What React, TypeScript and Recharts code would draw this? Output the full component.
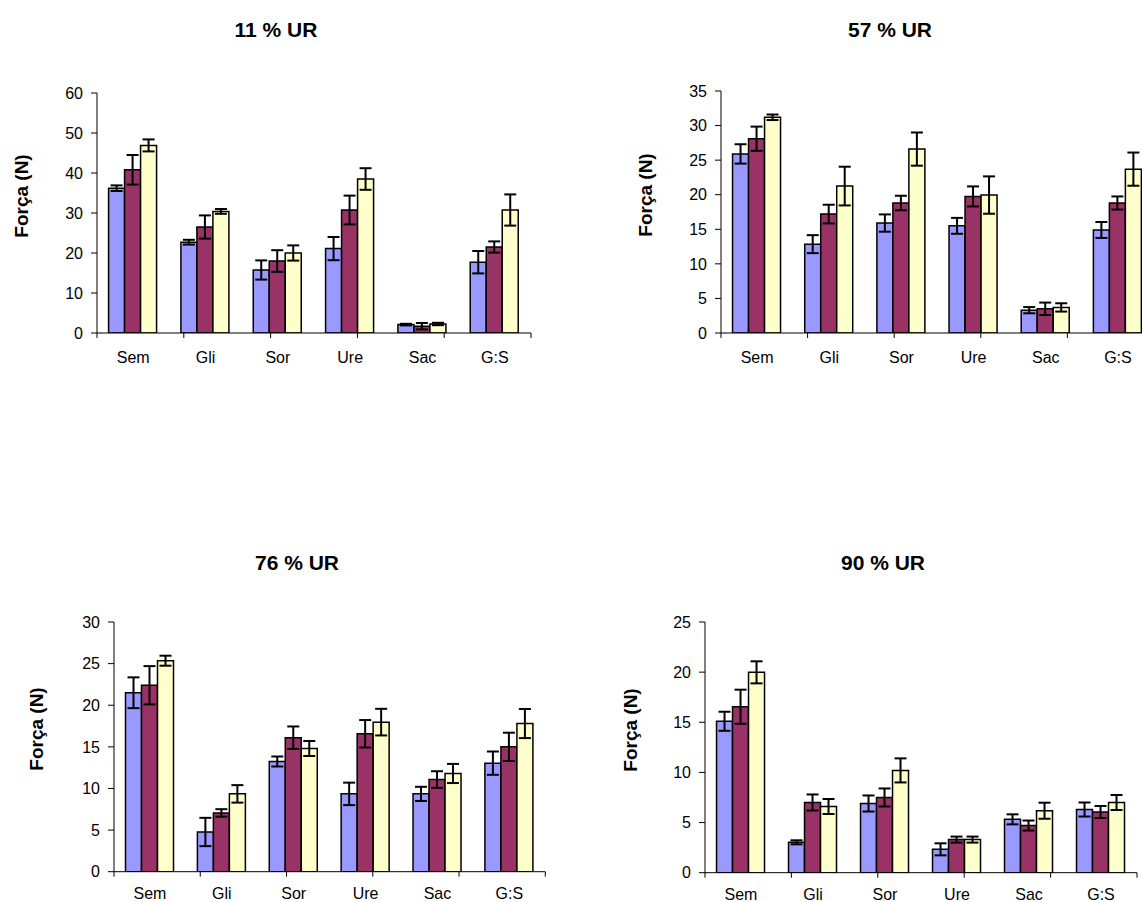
import React from 'react';
import { BarChart, Bar, XAxis, YAxis, ErrorBar } from 'recharts';

const categories = ['Sem', 'Gli', 'Sor', 'Ure', 'Sac', 'G:S'];

// 11 % UR
const ur11A = [36.2, 22.7, 15.75, 21.1, 2.1, 17.7];
const ur11AErr = [0.7, 0.6, 2.4, 2.9, 0.2, 2.8];
const ur11B = [40.8, 26.5, 18.0, 30.75, 1.7, 21.5];
const ur11BErr = [3.7, 2.9, 2.7, 3.6, 0.8, 1.4];
const ur11C = [46.9, 30.4, 20.0, 38.5, 2.25, 30.75];
const ur11CErr = [1.5, 0.6, 1.9, 2.7, 0.3, 3.9];
const ur11Ticks = [0, 10, 20, 30, 40, 50, 60];

// 57 % UR
const ur57A = [25.9, 12.85, 15.9, 15.5, 3.3, 14.9];
const ur57AErr = [1.4, 1.3, 1.25, 1.15, 0.45, 1.15];
const ur57B = [28.1, 17.2, 18.8, 19.75, 3.5, 18.8];
const ur57BErr = [1.75, 1.35, 1.05, 1.45, 0.9, 0.95];
const ur57C = [31.2, 21.25, 26.6, 19.95, 3.7, 23.7];
const ur57CErr = [0.4, 2.8, 2.4, 2.7, 0.6, 2.4];
const ur57Ticks = [0, 5, 10, 15, 20, 25, 30, 35];

// 76 % UR
const ur76A = [21.5, 4.77, 13.24, 9.35, 9.35, 13.04];
const ur76AErr = [1.85, 1.7, 0.6, 1.35, 0.85, 1.4];
const ur76B = [22.4, 7.06, 16.1, 16.57, 11.07, 15.0];
const ur76BErr = [2.3, 0.45, 1.35, 1.65, 1.0, 1.7];
const ur76C = [25.35, 9.35, 14.8, 17.97, 11.8, 17.8];
const ur76CErr = [0.6, 1.05, 0.9, 1.6, 1.15, 1.75];
const ur76Ticks = [0, 5, 10, 15, 20, 25, 30];

// 90 % UR
const ur90A = [15.1, 3.03, 6.9, 2.33, 5.32, 6.3];
const ur90AErr = [0.95, 0.2, 0.8, 0.6, 0.5, 0.7];
const ur90B = [16.55, 7.0, 7.5, 3.3, 4.7, 6.05];
const ur90BErr = [1.7, 0.8, 0.9, 0.3, 0.5, 0.6];
const ur90C = [19.98, 6.6, 10.2, 3.3, 6.18, 7.0];
const ur90CErr = [1.1, 0.75, 1.2, 0.3, 0.8, 0.75];
const ur90Ticks = [0, 5, 10, 15, 20, 25];

const boundaryTicks = [0, 1, 2, 3, 4, 5, 6];

const buildData = (
  a: number[], aErr: number[], b: number[], bErr: number[], c: number[], cErr: number[]
) =>
  categories.map((cat, i) => ({
    cat,
    a: a[i], aErr: aErr[i],
    b: b[i], bErr: bErr[i],
    c: c[i], cErr: cErr[i],
  }));

const FONT = '"Liberation Sans", Arial, Helvetica, sans-serif';
const COLORS = ['#9999FF', '#993366', '#FFFFCC'];

type PanelProps = {
  title: string;
  titleX: number;
  titleY: number;
  labelX: number;
  labelY: number;
  plotLeft: number;
  plotTop: number;
  plotWidth: number;
  plotHeight: number;
  ticks: number[];
  data: any[];
  catMargin: number;
};

const Y_AXIS_W = 60;
const M_TOP = 10;
const M_RIGHT = 10;
const M_BOTTOM = 38;
const X_AXIS_H = 1;

function Panel(p: PanelProps) {
  const w = Y_AXIS_W + p.plotWidth + M_RIGHT;
  const h = M_TOP + p.plotHeight + 2 * X_AXIS_H + M_BOTTOM;
  const yMax = p.ticks[p.ticks.length - 1];
  return (
    <>
      <div
        style={{
          position: 'absolute',
          left: p.titleX,
          top: p.titleY,
          transform: 'translate(-50%, -50%)',
          fontFamily: FONT,
          fontWeight: 'bold',
          fontSize: 21,
          whiteSpace: 'nowrap',
          color: '#000',
        }}
      >
        {p.title}
      </div>
      <div
        style={{
          position: 'absolute',
          left: p.labelX,
          top: p.labelY,
          transform: 'translate(-50%, -50%) rotate(-90deg)',
          fontFamily: FONT,
          fontWeight: 'bold',
          fontSize: 19,
          whiteSpace: 'nowrap',
          color: '#000',
        }}
      >
        Força (N)
      </div>
      <div style={{ position: 'absolute', left: p.plotLeft - Y_AXIS_W, top: p.plotTop - M_TOP }}>
        <BarChart
          width={w}
          height={h}
          data={p.data}
          margin={{ top: M_TOP, right: M_RIGHT, left: 0, bottom: M_BOTTOM }}
          barCategoryGap="16%"
          barGap={0}
        >
          <XAxis
            xAxisId="bounds"
            type="number"
            domain={[0, 6]}
            ticks={boundaryTicks}
            interval={0}
            allowDataOverflow
            height={X_AXIS_H}
            tickSize={5}
            tick={() => <g />}
            axisLine={{ stroke: '#000', strokeWidth: 1 }}
            tickLine={{ stroke: '#000', strokeWidth: 1 }}
          />
          <XAxis
            xAxisId="cat"
            dataKey="cat"
            type="category"
            height={X_AXIS_H}
            axisLine={false}
            tickLine={false}
            tickSize={6}
            tickMargin={p.catMargin}
            interval={0}
            tick={{ fill: '#000', fontSize: 16, fontFamily: FONT }}
          />
          <YAxis
            width={Y_AXIS_W}
            type="number"
            domain={[0, yMax]}
            ticks={p.ticks}
            interval={0}
            allowDataOverflow
            tickSize={6}
            tickMargin={8}
            axisLine={{ stroke: '#000', strokeWidth: 1 }}
            tickLine={{ stroke: '#000', strokeWidth: 1 }}
            tick={{ fill: '#000', fontSize: 16, fontFamily: FONT }}
          />
          <Bar xAxisId="cat" dataKey="a" fill={COLORS[0]} stroke="#000" strokeWidth={1.5} isAnimationActive={false}>
            <ErrorBar dataKey="aErr" direction="y" width={6} stroke="#000" strokeWidth={2} />
          </Bar>
          <Bar xAxisId="cat" dataKey="b" fill={COLORS[1]} stroke="#000" strokeWidth={1.5} isAnimationActive={false}>
            <ErrorBar dataKey="bErr" direction="y" width={6} stroke="#000" strokeWidth={2} />
          </Bar>
          <Bar xAxisId="cat" dataKey="c" fill={COLORS[2]} stroke="#000" strokeWidth={1.5} isAnimationActive={false}>
            <ErrorBar dataKey="cErr" direction="y" width={6} stroke="#000" strokeWidth={2} />
          </Bar>
        </BarChart>
      </div>
    </>
  );
}

export default function App() {
  const d11 = buildData(ur11A, ur11AErr, ur11B, ur11BErr, ur11C, ur11CErr);
  const d57 = buildData(ur57A, ur57AErr, ur57B, ur57BErr, ur57C, ur57CErr);
  const d76 = buildData(ur76A, ur76AErr, ur76B, ur76BErr, ur76C, ur76CErr);
  const d90 = buildData(ur90A, ur90AErr, ur90B, ur90BErr, ur90C, ur90CErr);
  return (
    <div
      style={{
        position: 'fixed',
        left: 0,
        top: 0,
        width: 1142,
        height: 902,
        overflow: 'hidden',
        background: '#fff',
      }}
    >
      <Panel
        title="11 % UR"
        titleX={276}
        titleY={30}
        labelX={22}
        labelY={196}
        plotLeft={97.3}
        plotTop={93.3}
        plotWidth={434}
        plotHeight={240}
        ticks={ur11Ticks}
        data={d11}
        catMargin={12}
      />
      <Panel
        title="57 % UR"
        titleX={890}
        titleY={30}
        labelX={646}
        labelY={195}
        plotLeft={720.7}
        plotTop={91.3}
        plotWidth={433}
        plotHeight={242}
        ticks={ur57Ticks}
        data={d57}
        catMargin={12}
      />
      <Panel
        title="76 % UR"
        titleX={297}
        titleY={563}
        labelX={36.5}
        labelY={729}
        plotLeft={113.7}
        plotTop={622.3}
        plotWidth={431.3}
        plotHeight={249.7}
        ticks={ur76Ticks}
        data={d76}
        catMargin={9}
      />
      <Panel
        title="90 % UR"
        titleX={883}
        titleY={563}
        labelX={630.5}
        labelY={729.5}
        plotLeft={705.3}
        plotTop={622}
        plotWidth={432}
        plotHeight={250.7}
        ticks={ur90Ticks}
        data={d90}
        catMargin={9}
      />
    </div>
  );
}
